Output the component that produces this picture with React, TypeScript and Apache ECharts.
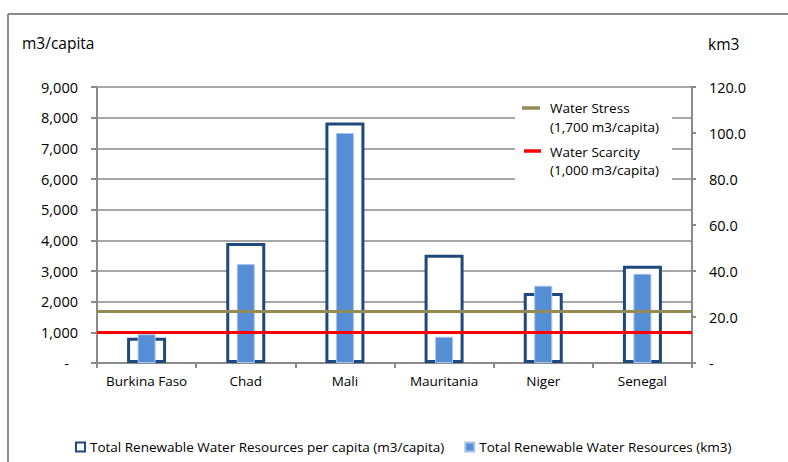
import React, { useEffect, useRef } from "react";
import * as echarts from "echarts";

// Countries and their renewable water resources
const categories = ["Burkina Faso", "Chad", "Mali", "Mauritania", "Niger", "Senegal"];
const perCapita = [820, 3910, 7840, 3530, 2280, 3170]; // m3/capita
const totalKm3 = [12.5, 43, 100, 11.4, 33.6, 38.8]; // km3

// Thresholds (m3/capita)
const waterStress = 1700;
const waterScarcity = 1000;

const PC_NAME = "Total Renewable Water Resources per capita (m3/capita)";
const KM_NAME = "Total Renewable Water Resources (km3)";

const FONT = "'Open Sans', 'Noto Sans', sans-serif";
const GRAY = "#8a8a8a";
const NAVY = "#1f497d";
const BLUE = "#558ed5";
const OLIVE = "#948a54";
const RED = "#ff0000";

const NUM_SIZE = 14.5;
const CAT_SIZE = 13.5;
const LEG_SIZE = 13.5;
const TITLE_SIZE = 15.5;

export default function App() {
  const ref = useRef<HTMLDivElement>(null);

  useEffect(() => {
    if (!ref.current) return;
    const chart = echarts.init(ref.current, undefined, { renderer: "svg" });

    const option = {
      animation: false,
      backgroundColor: "#ffffff",
      textStyle: { fontFamily: FONT },
      grid: { left: 97, right: 96, top: 87, bottom: 99, containLabel: false },
      xAxis: [
        {
          type: "category",
          data: categories,
          axisLine: { lineStyle: { color: GRAY, width: 2 } },
          axisTick: { show: true, interval: 0, length: 5, lineStyle: { color: GRAY, width: 2 } },
          axisLabel: { color: "#000", interval: 0, fontSize: CAT_SIZE, margin: 11, fontFamily: FONT },
        },
        { type: "category", data: categories, show: false },
      ],
      yAxis: [
        {
          type: "value",
          min: 0,
          max: 9000,
          interval: 1000,
          axisLine: { show: true, lineStyle: { color: GRAY, width: 2 } },
          axisTick: { show: true, length: 6, lineStyle: { color: GRAY, width: 2 } },
          axisLabel: {
            color: "#000",
            fontSize: NUM_SIZE,
            margin: 19,
            fontFamily: FONT,
            formatter: (v: number) => (v === 0 ? "{d|-}" : v.toLocaleString("en-US")),
            rich: { d: { fontSize: NUM_SIZE, padding: [0, 9, 0, 0], fontFamily: FONT, color: "#000" } },
          },
          splitLine: { show: true, lineStyle: { color: GRAY, width: 1.5 } },
        },
        {
          type: "value",
          min: 0,
          max: 120,
          interval: 20,
          axisLine: { show: true, lineStyle: { color: GRAY, width: 2 } },
          axisTick: { show: true, length: 4, lineStyle: { color: GRAY, width: 2 } },
          axisLabel: {
            color: "#000",
            fontSize: NUM_SIZE,
            margin: 17,
            fontFamily: FONT,
            formatter: (v: number) => (v === 0 ? "-" : v.toFixed(1)),
          },
          splitLine: { show: false },
        },
      ],
      legend: {
        data: [
          { name: PC_NAME, itemStyle: { borderWidth: 2 } },
          { name: KM_NAME },
        ],
        icon: "rect",
        left: 75,
        top: 440,
        padding: 0,
        itemWidth: 9,
        itemHeight: 9,
        itemGap: 20,
        selectedMode: false,
        textStyle: { color: "#000", fontSize: LEG_SIZE, fontFamily: FONT },
      },
      series: [
        {
          name: PC_NAME,
          type: "bar",
          xAxisIndex: 0,
          yAxisIndex: 0,
          data: perCapita,
          barWidth: 39,
          itemStyle: { color: "#ffffff", borderColor: NAVY, borderWidth: 3 },
          z: 2,
        },
        {
          name: KM_NAME,
          type: "bar",
          xAxisIndex: 1,
          yAxisIndex: 1,
          data: totalKm3,
          barWidth: 18,
          itemStyle: { color: BLUE, borderColor: "#a9c4ea", borderWidth: 1 },
          z: 3,
        },
        {
          name: "Water Stress",
          type: "line",
          xAxisIndex: 0,
          yAxisIndex: 0,
          data: [],
          z: 5,
          markLine: {
            silent: true,
            symbol: "none",
            label: { show: false },
            lineStyle: { color: OLIVE, width: 3, type: "solid" },
            data: [{ yAxis: waterStress }],
          },
        },
        {
          name: "Water Scarcity",
          type: "line",
          xAxisIndex: 0,
          yAxisIndex: 0,
          data: [],
          z: 5,
          markLine: {
            silent: true,
            symbol: "none",
            label: { show: false },
            lineStyle: { color: RED, width: 3, type: "solid" },
            data: [{ yAxis: waterScarcity }],
          },
        },
      ],
      graphic: [
        // outer frame
        { type: "line", z: 100, shape: { x1: 8, y1: 14, x2: 788, y2: 14 }, style: { stroke: GRAY, lineWidth: 2 } },
        { type: "line", z: 100, shape: { x1: 8, y1: 14, x2: 8, y2: 462 }, style: { stroke: GRAY, lineWidth: 2 } },
        // axis titles
        { type: "text", z: 100, x: 22, y: 43, style: { text: "m3/capita", fill: "#000", font: `${TITLE_SIZE}px ${FONT}`, verticalAlign: "middle" } },
        { type: "text", z: 100, x: 708, y: 44, style: { text: "km3", fill: "#000", font: `${TITLE_SIZE}px ${FONT}`, verticalAlign: "middle" } },
        // threshold legend box
        { type: "rect", z: 100, shape: { x: 515, y: 92, width: 157, height: 90 }, style: { fill: "#ffffff" } },
        { type: "line", z: 101, shape: { x1: 522, y1: 108, x2: 540, y2: 108 }, style: { stroke: OLIVE, lineWidth: 3.5 } },
        { type: "text", z: 101, x: 550, y: 108, style: { text: "Water Stress", fill: "#000", font: `${LEG_SIZE}px ${FONT}`, verticalAlign: "middle" } },
        { type: "text", z: 101, x: 550, y: 127, style: { text: "(1,700 m3/capita)", fill: "#000", font: `${LEG_SIZE}px ${FONT}`, verticalAlign: "middle" } },
        { type: "line", z: 101, shape: { x1: 524, y1: 151, x2: 541, y2: 151 }, style: { stroke: RED, lineWidth: 3.5 } },
        { type: "text", z: 101, x: 550, y: 152, style: { text: "Water Scarcity", fill: "#000", font: `${LEG_SIZE}px ${FONT}`, verticalAlign: "middle" } },
        { type: "text", z: 101, x: 550, y: 170, style: { text: "(1,000 m3/capita)", fill: "#000", font: `${LEG_SIZE}px ${FONT}`, verticalAlign: "middle" } },
      ],
    };

    chart.setOption(option as any);
    return () => chart.dispose();
  }, []);

  return (
    <div
      ref={ref}
      style={{ position: "fixed", left: 0, top: 0, width: 788, height: 462, background: "#fff" }}
    />
  );
}
